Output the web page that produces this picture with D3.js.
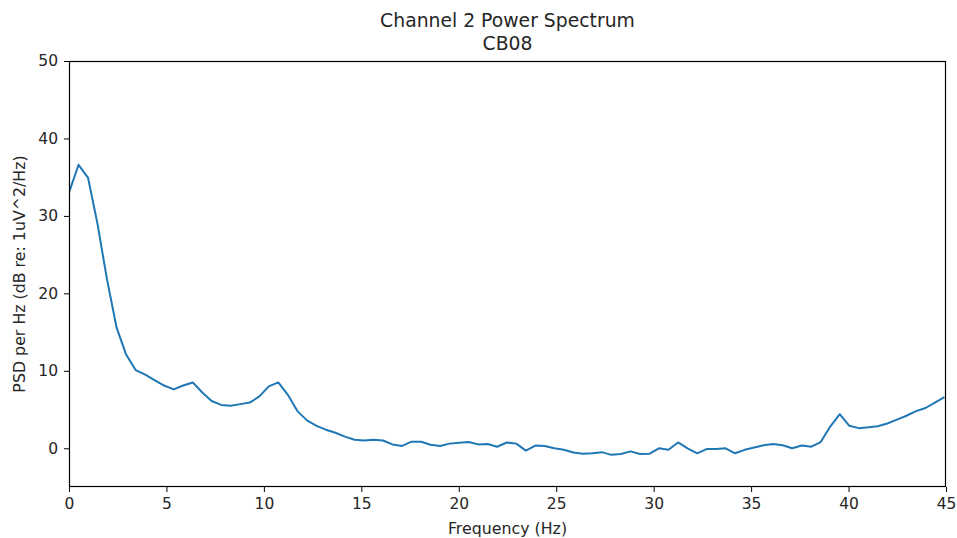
<!DOCTYPE html>
<html>
<head>
<meta charset="utf-8">
<script src="https://cdn.jsdelivr.net/npm/d3@7"></script>
<style>
  body { margin: 0; background: #fff; }
  svg text { font-family: "DejaVu Sans", sans-serif; fill: #262626; }
</style>
</head>
<body>
<svg id="chart"></svg>
<script>
"use strict";

const width = 957;
const height = 538;
const margin = {top: 61, right: 11, bottom: 51, left: 69};

const title_lines = ["Channel 2 Power Spectrum", "CB08"];
const x_label = "Frequency (Hz)";
const y_label = "PSD per Hz (dB re: 1uV^2/Hz)";

const x_ticks = [0, 5, 10, 15, 20, 25, 30, 35, 40, 45];
const y_ticks = [0, 10, 20, 30, 40, 50];

// frequency bins (Hz)
const freqs = [
    0.00, 0.49, 0.98, 1.46, 1.95, 2.44, 2.93, 3.42, 3.91, 4.39,
    4.88, 5.37, 5.86, 6.35, 6.84, 7.32, 7.81, 8.30, 8.79, 9.28,
    9.77, 10.25, 10.74, 11.23, 11.72, 12.21, 12.70, 13.18, 13.67, 14.16,
    14.65, 15.14, 15.63, 16.11, 16.60, 17.09, 17.58, 18.07, 18.55, 19.04,
    19.53, 20.02, 20.51, 21.00, 21.48, 21.97, 22.46, 22.95, 23.44, 23.93,
    24.41, 24.90, 25.39, 25.88, 26.37, 26.86, 27.34, 27.83, 28.32, 28.81,
    29.30, 29.79, 30.27, 30.76, 31.25, 31.74, 32.23, 32.71, 33.20, 33.69,
    34.18, 34.67, 35.16, 35.64, 36.13, 36.62, 37.11, 37.60, 38.09, 38.57,
    39.06, 39.55, 40.04, 40.53, 41.02, 41.50, 41.99, 42.48, 42.97, 43.46,
    43.95, 44.43, 44.92
];

// PSD values (dB)
const psd = [
    33.0, 36.6, 34.9, 29.0, 21.8, 15.6, 12.1, 10.1, 9.5, 8.8,
    8.1, 7.6, 8.1, 8.5, 7.2, 6.1, 5.6, 5.5, 5.7, 5.9,
    6.7, 8.0, 8.5, 6.9, 4.8, 3.6, 2.9, 2.4, 2.0, 1.5,
    1.1, 1.0, 1.1, 1.0, 0.5, 0.3, 0.85, 0.85, 0.45, 0.3,
    0.6, 0.7, 0.8, 0.5, 0.55, 0.2, 0.75, 0.6, -0.3, 0.35,
    0.3, 0.0, -0.2, -0.55, -0.7, -0.65, -0.5, -0.85, -0.75, -0.4,
    -0.75, -0.7, 0.0, -0.2, 0.75, 0.0, -0.65, -0.1, -0.1, 0.0,
    -0.65, -0.2, 0.1, 0.4, 0.55, 0.4, 0.0, 0.35, 0.2, 0.8,
    2.8, 4.4, 2.9, 2.6, 2.7, 2.85, 3.2, 3.7, 4.2, 4.8,
    5.2, 5.9, 6.6
];

const data = freqs.map((f, i) => ({f: f, v: psd[i]}));

const svg = d3.select("#chart")
    .attr("width", width)
    .attr("height", height);

const x = d3.scaleLinear()
    .domain([0, 45])
    .range([margin.left, width - margin.right]);

const y = d3.scaleLinear()
    .domain([-5, 50])
    .range([height - margin.bottom, margin.top]);

// clip so the line stays in the axes
svg.append("clipPath")
    .attr("id", "clip")
    .append("rect")
    .attr("x", margin.left)
    .attr("y", margin.top)
    .attr("width", width - margin.left - margin.right)
    .attr("height", height - margin.top - margin.bottom);

const line = d3.line()
    .x(d => x(d.f))
    .y(d => y(d.v));

svg.append("path")
    .datum(data)
    .attr("clip-path", "url(#clip)")
    .attr("fill", "none")
    .attr("stroke", "#1f77b4")
    .attr("stroke-width", 2)
    .attr("stroke-linejoin", "round")
    .attr("d", line);

// axes
const x_axis = svg.append("g")
    .attr("transform", `translate(0, ${height - margin.bottom})`)
    .call(d3.axisBottom(x).tickValues(x_ticks).tickSize(5).tickPadding(6));

const y_axis = svg.append("g")
    .attr("transform", `translate(${margin.left}, 0)`)
    .call(d3.axisLeft(y).tickValues(y_ticks).tickSize(5).tickPadding(6));

[x_axis, y_axis].forEach(ax => {
    ax.select(".domain").remove();
    ax.selectAll("line").attr("stroke", "#000").attr("stroke-width", 1);
    ax.selectAll("text").style("font-size", "15.5px").attr("fill", "#262626");
});

// spines
svg.append("rect")
    .attr("x", margin.left + 0.5)
    .attr("y", margin.top + 0.5)
    .attr("width", width - margin.left - margin.right - 1)
    .attr("height", height - margin.top - margin.bottom - 1)
    .attr("fill", "none")
    .attr("stroke", "#000")
    .attr("stroke-width", 1.2);

// title
svg.append("g")
    .selectAll("text")
    .data(title_lines)
    .enter()
    .append("text")
    .attr("x", (margin.left + width - margin.right) / 2)
    .attr("y", (d, i) => 27 + i * 23)
    .attr("text-anchor", "middle")
    .style("font-size", "18.8px")
    .text(d => d);

svg.append("text")
    .attr("x", (margin.left + width - margin.right) / 2)
    .attr("y", 534)
    .attr("text-anchor", "middle")
    .style("font-size", "15.8px")
    .text(x_label);

svg.append("text")
    .attr("transform", `translate(25, ${(margin.top + height - margin.bottom) / 2}) rotate(-90)`)
    .attr("text-anchor", "middle")
    .style("font-size", "15.8px")
    .text(y_label);
</script>
</body>
</html>
